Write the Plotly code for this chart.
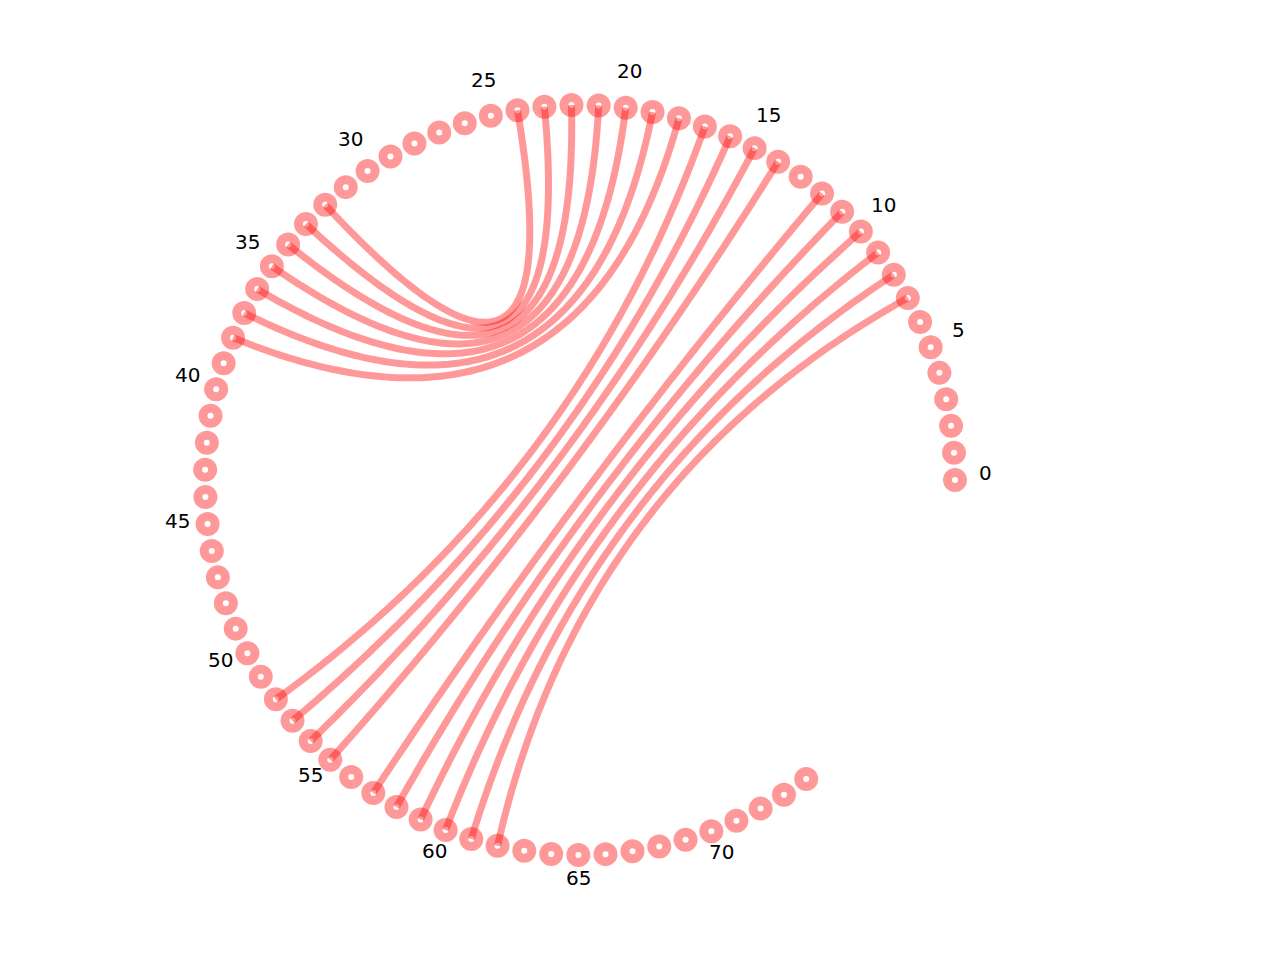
import numpy as np
import plotly.graph_objects as go

# nodes placed around an open circle, labelled every 5th
node_ids = list(range(75))
label_ids = [0, 5, 10, 15, 20, 25, 30, 35, 40, 45, 50, 55, 60, 65, 70]

# chords between pairs of nodes
sources = [24, 23, 22, 21, 20, 19, 18, 17, 16, 15, 14, 12, 11, 10, 9, 8, 7]
targets = [32, 33, 34, 35, 36, 37, 38, 52, 53, 54, 55, 57, 58, 59, 60, 61, 62]

step = np.radians(4.15)
red = 'rgba(255,0,0,0.4)'


def pos(i, r=1.0):
    a = i * step
    return r * np.cos(a), r * np.sin(a)


fig = go.Figure()

# node rings
nx, ny = zip(*[pos(i) for i in node_ids])
fig.add_trace(go.Scatter(
    x=nx, y=ny, mode='markers', hoverinfo='skip',
    marker=dict(size=15, color='white', line=dict(color=red, width=9)),
))

# chords as quadratic bezier curves through the centre
t = np.linspace(0, 1, 120)
for s, e in zip(sources, targets):
    x0, y0 = pos(s)
    x2, y2 = pos(e)
    bx = (1 - t) ** 2 * x0 + t ** 2 * x2
    by = (1 - t) ** 2 * y0 + t ** 2 * y2
    fig.add_trace(go.Scatter(
        x=bx, y=by, mode='lines', hoverinfo='skip',
        line=dict(color=red, width=7, simplify=False),
    ))

# labels
for i in label_ids:
    lx, ly = pos(i, 1.08)
    fig.add_annotation(
        x=lx, y=ly, text=str(i), showarrow=False, yshift=7,
        font=dict(family='DejaVu Sans', size=20, color='black'),
    )

# page body has an 8px margin, so the centre sits at (572, 472) in the figure
scale = 375.0
fig.update_layout(
    width=1280, height=960,
    margin=dict(l=0, r=0, t=0, b=0),
    paper_bgcolor='white', plot_bgcolor='white',
    showlegend=False,
    xaxis=dict(range=[-572 / scale, 708 / scale], visible=False, fixedrange=True),
    yaxis=dict(range=[-488 / scale, 472 / scale], visible=False, fixedrange=True),
)

fig.write_html('out.html')
